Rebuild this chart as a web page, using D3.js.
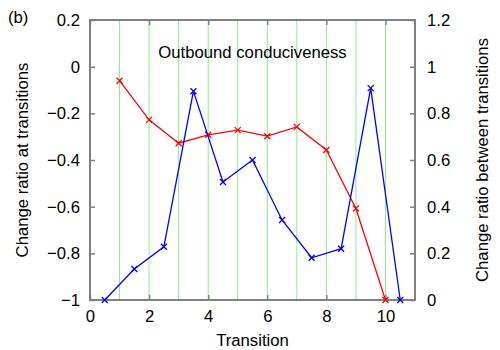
<!DOCTYPE html>
<html>
<head>
<meta charset="utf-8">
<script src="https://cdn.jsdelivr.net/npm/d3@7"></script>
<style>
body { margin: 0; background: #fff; }
text { font-family: "Liberation Sans", Arial, sans-serif; fill: #000; }
</style>
</head>
<body>
<div id="chart"></div>
<script>
// data
const atX = [1, 2, 3, 4, 5, 6, 7, 8, 9, 10]
const atVals = [-0.06, -0.228, -0.328, -0.292, -0.272, -0.298, -0.258, -0.357, -0.608, -1.0]
const betweenX = [0.5, 1.5, 2.5, 3.5, 4.5, 5.5, 6.5, 7.5, 8.5, 9.5, 10.5]
const betweenVals = [0, 0.133, 0.228, 0.895, 0.506, 0.6, 0.343, 0.181, 0.22, 0.908, 0]
const xTicks = [0, 2, 4, 6, 8, 10]
const gridX = [1, 2, 3, 4, 5, 6, 7, 8, 9, 10]
const leftTicks = [-1, -0.8, -0.6, -0.4, -0.2, 0, 0.2]
const rightTicks = [0, 0.2, 0.4, 0.6, 0.8, 1, 1.2]

const W = 500, H = 350
const L = 90, R = 415, T = 20, B = 300
const FS = "16.7px"

const svg = d3.select("#chart").append("svg")
    .attr("width", W)
    .attr("height", H)

const x = d3.scaleLinear().domain([0, 11]).range([L, R])
const yL = d3.scaleLinear().domain([-1, 0.2]).range([B, T])
const yR = d3.scaleLinear().domain([0, 1.2]).range([B, T])

// green grid lines
svg.append("g").selectAll("line")
    .data(gridX)
    .join("line")
    .attr("x1", d => x(d)).attr("x2", d => x(d))
    .attr("y1", T).attr("y2", B)
    .style("stroke", "#88ee88")
    .style("stroke-width", 1)

const frameColor = "#808080"

// axes with inward ticks
function styleAxis(g) {
    g.select(".domain").remove()
    g.selectAll(".tick line").attr("stroke", frameColor).attr("stroke-width", 1.5)
    g.selectAll(".tick text").style("font-size", FS).style("font-family", "Liberation Sans, Arial, sans-serif")
}

svg.append("g")
    .attr("transform", `translate(0,${B})`)
    .call(d3.axisBottom(x).tickValues(xTicks).tickFormat(d3.format("d")).tickSizeInner(-5).tickPadding(10))
    .call(styleAxis)

svg.append("g")
    .attr("transform", `translate(0,${T})`)
    .call(d3.axisTop(x).tickValues(xTicks).tickFormat("").tickSizeInner(-5))
    .call(styleAxis)

svg.append("g")
    .attr("transform", `translate(${L},0)`)
    .call(d3.axisLeft(yL).tickValues(leftTicks).tickFormat(d => d3.format("")(+d.toFixed(1))).tickSizeInner(-5).tickPadding(10))
    .call(styleAxis)

svg.append("g")
    .attr("transform", `translate(${R},0)`)
    .call(d3.axisRight(yR).tickValues(rightTicks).tickFormat(d => d3.format("")(+d.toFixed(1))).tickSizeInner(-5).tickPadding(12))
    .call(styleAxis)

// frame
svg.append("rect")
    .attr("x", L).attr("y", T)
    .attr("width", R - L).attr("height", B - T)
    .style("fill", "none")
    .style("stroke", frameColor)
    .style("stroke-width", 2)

function addSeries(xs, vals, yscale, color) {
    const pts = xs.map((d, i) => [x(d), yscale(vals[i])])
    svg.append("path")
        .attr("d", d3.line()(pts))
        .style("fill", "none")
        .style("stroke", color)
        .style("stroke-width", 1.3)
    const s = 3
    const g = svg.append("g")
    pts.forEach(p => {
        g.append("path")
            .attr("d", `M${p[0] - s},${p[1] - s}L${p[0] + s},${p[1] + s}M${p[0] - s},${p[1] + s}L${p[0] + s},${p[1] - s}`)
            .style("stroke", color)
            .style("stroke-width", 1.3)
    })
}

addSeries(atX, atVals, yL, "#ff0000")
addSeries(betweenX, betweenVals, yR, "#0000ff")

// labels
svg.append("text")
    .attr("x", (L + R) / 2).attr("y", 58)
    .attr("text-anchor", "middle")
    .style("font-size", FS)
    .text("Outbound conduciveness")

svg.append("text")
    .attr("x", (L + R) / 2).attr("y", 346)
    .attr("text-anchor", "middle")
    .style("font-size", FS)
    .text("Transition")

svg.append("text")
    .attr("transform", `translate(28,${(T + B) / 2}) rotate(-90)`)
    .attr("text-anchor", "middle")
    .style("font-size", FS)
    .text("Change ratio at transitions")

svg.append("text")
    .attr("transform", `translate(488,${(T + B) / 2}) rotate(-90)`)
    .attr("text-anchor", "middle")
    .style("font-size", FS)
    .text("Change ratio between transitions")

svg.append("text")
    .attr("x", 8).attr("y", 23)
    .style("font-size", FS)
    .text("(b)")
</script>
</body>
</html>
